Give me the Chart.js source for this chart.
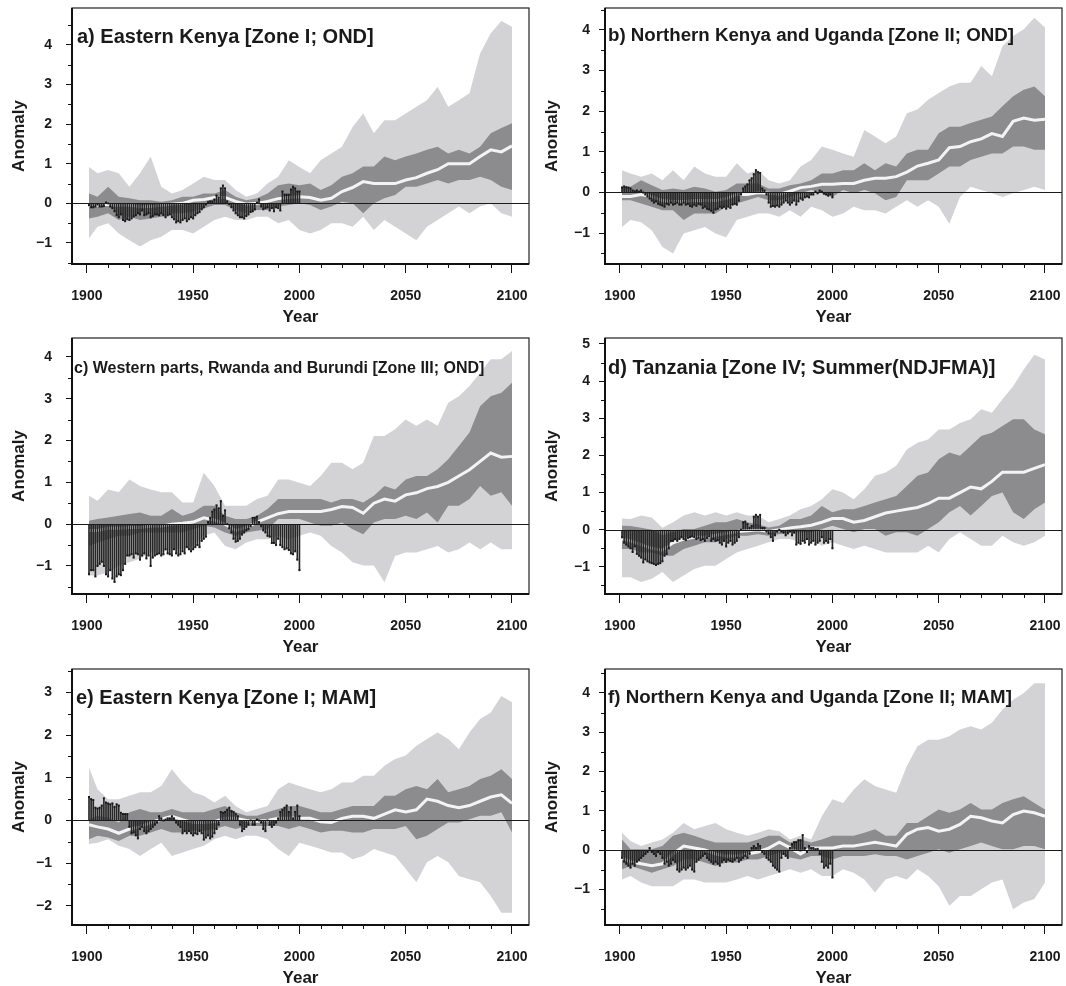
<!DOCTYPE html>
<html>
<head>
<meta charset="utf-8">
<script src="https://cdn.jsdelivr.net/npm/chart.js@4.4.1/dist/chart.umd.min.js"></script>
<style>
  body { margin: 0; background: #fff; width: 1066px; height: 986px; overflow: hidden; position: relative; }
  canvas { position: absolute; }
</style>
</head>
<body>
<canvas id="pa" width="533" height="330" style="left:0;top:0"></canvas>
<canvas id="pb" width="533" height="330" style="left:533px;top:0"></canvas>
<canvas id="pc" width="533" height="330" style="left:0;top:330px"></canvas>
<canvas id="pd" width="533" height="330" style="left:533px;top:330px"></canvas>
<canvas id="pe" width="533" height="330" style="left:0;top:661px"></canvas>
<canvas id="pf" width="533" height="330" style="left:533px;top:661px"></canvas>
<script>
// years for the model envelopes (every 5 years) and for the observed stems
const bandYears = [1901,1905,1910,1915,1920,1925,1930,1935,1940,1945,1950,1955,1960,1965,1970,1975,1980,1985,1990,1995,
  2000,2005,2010,2015,2020,2025,2030,2035,2040,2045,2050,2055,2060,2065,2070,2075,2080,2085,2090,2095,2100];
const obsYears = [1901,1902,1903,1904,1905,1906,1907,1908,1909,1910,1911,1912,1913,1914,1915,1916,1917,1918,1919,1920,
  1921,1922,1923,1924,1925,1926,1927,1928,1929,1930,1931,1932,1933,1934,1935,1936,1937,1938,1939,1940,
  1941,1942,1943,1944,1945,1946,1947,1948,1949,1950,1951,1952,1953,1954,1955,1956,1957,1958,1959,1960,
  1961,1962,1963,1964,1965,1966,1967,1968,1969,1970,1971,1972,1973,1974,1975,1976,1977,1978,1979,1980,
  1981,1982,1983,1984,1985,1986,1987,1988,1989,1990,1991,1992,1993,1994,1995,1996,1997,1998,1999,2000];
const xTicks = [1900, 1950, 2000, 2050, 2100];

// a) Eastern Kenya OND
const aLightHi = [0.92,0.76,0.84,0.76,0.42,0.76,1.18,0.42,0.25,0.34,0.5,0.67,0.59,0.59,0.34,0.17,0.25,0.5,0.67,1.09,0.92,0.76,1.09,1.26,1.43,1.93,2.27,1.77,2.1,2.1,2.27,2.44,2.6,2.94,2.44,2.6,2.78,3.78,4.29,4.6,4.46];
const aLightLo = [-0.88,-0.59,-0.5,-0.76,-0.93,-1.09,-0.93,-0.84,-0.67,-0.67,-0.76,-0.59,-0.42,-0.34,-0.42,-0.42,-0.34,-0.34,-0.5,-0.42,-0.67,-0.76,-0.67,-0.5,-0.5,-0.59,-0.34,-0.67,-0.42,-0.59,-0.76,-0.93,-0.59,-0.42,-0.25,-0.08,-0.25,-0.08,0.0,-0.25,-0.34];
const aDarkHi = [0.25,0.17,0.42,0.17,0.13,0.08,0.08,0.04,0.08,0.17,0.17,0.25,0.25,0.34,0.17,0.08,0.13,0.25,0.46,0.5,0.46,0.5,0.34,0.46,0.67,0.76,0.93,0.93,1.18,1.09,1.18,1.26,1.35,1.43,1.26,1.35,1.26,1.43,1.77,1.9,2.02];
const aDarkLo = [-0.38,-0.34,-0.25,-0.42,-0.34,-0.42,-0.38,-0.34,-0.25,-0.25,-0.21,-0.13,-0.04,-0.04,-0.17,-0.25,-0.17,-0.17,-0.08,-0.04,0.0,-0.04,-0.17,-0.08,0.04,0.0,-0.25,0.0,0.13,0.21,0.42,0.42,0.5,0.59,0.5,0.59,0.59,0.67,0.59,0.42,0.34];
const aMean = [-0.05,-0.05,-0.02,-0.05,-0.05,-0.08,-0.08,-0.05,-0.02,0.0,0.08,0.1,0.15,0.15,0.05,-0.02,0.0,0.05,0.12,0.15,0.17,0.15,0.08,0.13,0.3,0.4,0.55,0.5,0.5,0.5,0.59,0.65,0.76,0.85,1.0,1.0,1.0,1.18,1.35,1.3,1.45];
const aObs = [-0.05,-0.1,-0.1,-0.08,-0.03,-0.08,-0.08,-0.07,0.02,0.0, -0.08,-0.12,-0.2,-0.3,-0.35,-0.28,-0.42,-0.45,-0.4,-0.42,
  -0.38,-0.33,-0.3,-0.25,-0.28,-0.18,-0.3,-0.28,-0.25,-0.35, -0.32,-0.28,-0.28,-0.3,-0.25,-0.3,-0.35,-0.3,-0.28,-0.35,
  -0.4,-0.48,-0.45,-0.48,-0.42,-0.38,-0.45,-0.4,-0.35,-0.38, -0.3,-0.25,-0.22,-0.15,-0.1,-0.03,0.03,0.05,0.05,0.1,
  0.2,0.15,0.38,0.45,0.38,0.05,-0.02,-0.1,-0.18,-0.25, -0.3,-0.35,-0.35,-0.38,-0.32,-0.28,-0.22,-0.2,-0.15,0.02,
  0.1,-0.08,-0.15,-0.12,-0.1,-0.18,-0.12,-0.2,-0.1,-0.12, -0.18,0.3,0.22,0.22,0.22,0.35,0.42,0.38,0.3,0.3];

// b) Northern Kenya and Uganda OND
const bLightHi = [0.55,0.47,0.39,0.47,0.3,0.55,0.3,0.64,0.47,0.39,0.39,0.72,0.47,0.55,0.3,0.22,0.3,0.64,0.8,1.13,1.05,0.96,0.88,1.54,1.38,1.21,1.38,1.95,2.04,2.28,2.45,2.61,2.7,2.7,3.11,2.86,3.6,3.85,4.02,4.3,4.06];
const bLightLo = [-0.85,-0.68,-0.73,-0.93,-1.34,-1.5,-1.01,-0.93,-0.85,-1.01,-1.1,-0.68,-0.6,-0.52,-0.52,-0.6,-0.44,-0.6,-0.35,-0.44,-0.6,-0.52,-0.35,-0.44,-0.44,-0.52,-0.35,-0.19,-0.35,-0.19,-0.35,-0.77,-0.11,0.14,0.06,-0.02,-0.11,-0.02,0.06,0.14,0.06];
const bDarkHi = [0.14,0.14,0.3,0.18,0.06,0.1,0.06,0.14,0.1,0.02,0.06,0.22,0.22,0.22,0.1,0.1,0.18,0.22,0.3,0.47,0.47,0.55,0.55,0.72,0.55,0.72,0.64,0.96,1.05,1.05,1.46,1.62,1.62,1.71,1.79,1.87,2.12,2.37,2.53,2.61,2.37];
const bDarkLo = [-0.19,-0.19,-0.27,-0.35,-0.44,-0.44,-0.68,-0.52,-0.52,-0.52,-0.35,-0.27,-0.19,-0.11,-0.19,-0.19,-0.11,-0.02,0.06,-0.02,-0.11,0.06,-0.02,0.06,-0.02,-0.19,-0.11,0.3,0.3,0.3,0.47,0.64,0.64,0.8,0.88,0.96,0.96,1.13,1.13,1.05,1.05];
const bMean = [-0.1,-0.1,-0.05,-0.1,-0.2,-0.22,-0.22,-0.2,-0.2,-0.2,-0.15,-0.05,-0.05,0.0,-0.02,-0.05,0.03,0.12,0.15,0.2,0.2,0.22,0.22,0.3,0.35,0.35,0.39,0.5,0.65,0.72,0.8,1.1,1.13,1.25,1.32,1.45,1.38,1.75,1.83,1.78,1.8];
const bObs = [0.12,0.15,0.13,0.12,0.1,0.05,0.03,0.05,0.02,0.05, 0.0,-0.05,-0.1,-0.15,-0.2,-0.25,-0.22,-0.28,-0.3,-0.32,
  -0.35,-0.28,-0.3,-0.25,-0.3,-0.28,-0.25,-0.3,-0.3,-0.25, -0.3,-0.28,-0.33,-0.35,-0.3,-0.33,-0.28,-0.3,-0.38,-0.35,
  -0.4,-0.42,-0.45,-0.5,-0.42,-0.4,-0.35,-0.38,-0.35,-0.4, -0.35,-0.38,-0.3,-0.28,-0.3,-0.2,-0.05,0.1,0.15,0.2,
  0.3,0.35,0.45,0.55,0.5,0.48,0.1,0.05,-0.05,-0.25, -0.35,-0.33,-0.35,-0.32,-0.35,-0.3,-0.25,-0.2,-0.25,-0.3,
  -0.25,-0.2,-0.3,-0.22,-0.15,-0.18,-0.12,-0.1,-0.12,-0.05, -0.05,0.02,-0.02,0.05,0.02,-0.03,-0.05,-0.08,-0.05,-0.12];

// c) Western parts, Rwanda and Burundi OND
const cLightHi = [0.68,0.56,0.83,0.76,1.07,0.91,0.83,0.76,0.76,0.52,0.52,1.23,0.91,0.44,0.44,0.44,0.6,0.68,1.07,1.07,0.99,0.91,1.15,1.47,1.47,1.31,1.47,2.11,2.11,2.27,2.5,2.35,2.5,2.35,2.9,3.06,3.3,3.62,3.94,3.94,4.14];
const cLightLo = [-1.23,-1.23,-1.15,-0.99,-0.91,-0.83,-0.68,-0.68,-0.6,-0.6,-0.52,-0.28,-0.2,-0.52,-0.6,-0.44,-0.36,-0.36,-0.28,-0.36,-0.28,-0.2,-0.28,-0.52,-0.68,-0.91,-0.99,-0.99,-1.39,-0.76,-0.68,-0.68,-0.6,-0.52,-0.68,-0.6,-0.44,-0.6,-0.44,-0.6,-0.6];
const cDarkHi = [0.08,0.12,0.16,0.2,0.24,0.28,0.2,0.2,0.36,0.2,0.28,0.44,0.44,0.2,0.12,0.12,0.2,0.36,0.6,0.6,0.6,0.6,0.6,0.52,0.6,0.6,0.52,0.68,0.91,0.83,1.07,1.15,1.15,1.31,1.55,1.87,2.19,2.82,3.06,3.14,3.38];
const cDarkLo = [-0.52,-0.44,-0.36,-0.28,-0.28,-0.2,-0.2,-0.2,-0.2,-0.2,-0.12,-0.04,-0.08,-0.2,-0.28,-0.2,-0.16,-0.12,0.12,0.12,0.12,0.04,-0.04,-0.04,0.04,-0.12,-0.24,0.04,0.12,0.12,0.2,0.12,0.28,0.04,0.44,0.44,0.6,0.91,0.68,0.76,0.44];
const cMean = [-0.15,-0.15,-0.1,-0.1,-0.08,-0.08,-0.05,-0.05,0.0,0.02,0.05,0.15,0.1,0.0,-0.15,-0.08,0.05,0.15,0.25,0.3,0.3,0.3,0.3,0.35,0.42,0.4,0.26,0.5,0.6,0.55,0.7,0.75,0.85,0.9,1.0,1.15,1.3,1.5,1.7,1.6,1.62];
const cObs = [-1.2,-1.1,-1.1,-1.25,-1.0,-0.95,-0.9,-1.0,-1.2,-1.25, -1.1,-1.3,-1.38,-1.25,-1.2,-1.22,-1.1,-0.95,-0.75,-0.75,
  -0.72,-0.8,-0.7,-0.72,-0.85,-0.75,-0.7,-0.82,-0.75,-1.0, -0.8,-0.75,-0.72,-0.7,-0.75,-0.72,-0.6,-0.7,-0.72,-0.75,
  -0.6,-0.7,-0.75,-0.72,-0.65,-0.7,-0.55,-0.6,-0.65,-0.6, -0.55,-0.5,-0.55,-0.4,-0.35,-0.3,0.05,0.15,0.3,0.35,
  0.45,0.38,0.55,0.2,0.33,0.0,-0.1,-0.2,-0.35,-0.42, -0.4,-0.35,-0.25,-0.2,-0.15,-0.12,-0.05,0.15,0.15,0.18,
  0.05,-0.05,-0.15,-0.2,-0.28,-0.3,-0.45,-0.45,-0.5,-0.35, -0.5,-0.55,-0.6,-0.58,-0.62,-0.7,-0.72,-0.65,-0.85,-1.1];

// d) Tanzania NDJFMA
const dLightHi = [0.3,0.29,0.38,0.33,0.05,0.2,0.38,0.47,0.38,0.47,0.38,0.47,0.38,0.38,0.2,0.29,0.38,0.55,0.64,0.82,1.09,1.0,0.82,1.09,1.45,1.54,1.72,2.16,2.34,2.43,2.7,2.7,2.87,2.97,3.24,3.15,3.51,3.86,4.31,4.71,4.58];
const dLightLo = [-1.28,-1.28,-1.41,-1.32,-1.14,-1.41,-1.23,-1.06,-0.97,-0.97,-0.79,-0.61,-0.52,-0.43,-0.34,-0.25,-0.25,-0.34,-0.25,-0.43,-0.34,-0.43,-0.52,-0.43,-0.52,-0.61,-0.61,-0.61,-0.61,-0.43,-0.61,-0.25,-0.07,-0.25,-0.43,-0.43,-0.16,-0.34,-0.43,-0.34,-0.16];
const dDarkHi = [0.11,0.1,0.05,0.0,-0.15,-0.07,0.02,0.02,0.11,0.2,0.2,0.29,0.2,0.15,0.06,0.11,0.29,0.29,0.38,0.64,0.47,0.55,0.55,0.64,0.73,0.82,0.91,1.18,1.45,1.54,1.9,2.08,1.99,2.25,2.52,2.61,2.79,2.97,2.97,2.7,2.57];
const dDarkLo = [-0.52,-0.52,-0.61,-0.61,-0.7,-0.7,-0.52,-0.43,-0.34,-0.34,-0.25,-0.16,-0.16,-0.12,-0.16,-0.12,-0.07,-0.07,-0.07,0.02,0.11,0.02,-0.07,0.02,0.02,-0.16,-0.07,-0.07,-0.16,0.02,0.2,0.47,0.64,0.38,0.64,0.91,1.0,0.47,0.29,0.55,0.73];
const dMean = [-0.25,-0.3,-0.4,-0.5,-0.55,-0.35,-0.25,-0.2,-0.2,-0.15,-0.1,-0.05,-0.03,0.0,-0.05,0.0,0.05,0.08,0.12,0.2,0.3,0.3,0.2,0.25,0.35,0.45,0.5,0.55,0.6,0.7,0.85,0.85,1.0,1.15,1.1,1.3,1.55,1.55,1.55,1.65,1.75];
const dObs = [-0.2,-0.35,-0.4,-0.45,-0.5,-0.6,-0.45,-0.65,-0.7,-0.75, -0.88,-0.8,-0.85,-0.88,-0.9,-0.92,-0.95,-0.92,-0.9,-0.85,
  -0.7,-0.65,-0.5,-0.3,-0.3,-0.25,-0.3,-0.25,-0.2,-0.25, -0.28,-0.22,-0.2,-0.18,-0.2,-0.25,-0.22,-0.28,-0.25,-0.3,
  -0.22,-0.18,-0.3,-0.25,-0.3,-0.28,-0.35,-0.4,-0.3,-0.45, -0.35,-0.3,-0.4,-0.35,-0.3,-0.2,0.0,0.2,0.22,0.15,
  0.05,0.1,0.35,0.4,0.35,0.4,0.05,0.05,-0.05,-0.1, -0.2,-0.3,-0.15,-0.05,0.0,-0.05,-0.08,-0.15,-0.1,-0.05,
  -0.15,-0.08,-0.4,-0.35,-0.38,-0.3,-0.35,-0.25,-0.4,-0.35, -0.3,-0.4,-0.35,-0.3,-0.2,-0.35,-0.3,-0.35,-0.25,-0.5];

// e) Eastern Kenya MAM
const eLightHi = [1.24,0.73,0.5,0.5,0.58,0.66,0.66,0.81,1.2,0.89,0.66,0.58,0.42,0.58,0.34,0.19,0.27,0.34,0.73,0.89,0.81,0.73,0.66,0.73,0.89,0.89,1.05,1.05,1.28,1.44,1.52,1.75,1.91,2.06,1.91,1.67,2.06,2.38,2.53,2.92,2.77];
const eLightLo = [-0.55,-0.52,-0.44,-0.59,-0.67,-0.83,-0.67,-0.52,-0.83,-0.75,-0.67,-0.59,-0.44,-0.36,-0.44,-0.36,-0.36,-0.44,-0.67,-0.83,-0.52,-0.59,-0.67,-0.75,-0.75,-0.91,-0.83,-0.67,-0.75,-0.83,-1.14,-1.45,-0.98,-0.83,-0.98,-1.3,-1.38,-1.45,-1.77,-2.16,-2.16];
const eDarkHi = [0.03,0.11,0.07,-0.05,0.19,0.27,0.19,0.19,0.27,0.19,0.19,0.19,0.27,0.34,0.19,0.11,0.11,0.19,0.27,0.34,0.34,0.27,0.19,0.19,0.27,0.34,0.34,0.34,0.58,0.58,0.73,0.81,0.73,0.97,0.66,0.73,0.81,0.97,1.05,1.2,0.97];
const eDarkLo = [-0.44,-0.36,-0.4,-0.48,-0.36,-0.36,-0.28,-0.2,-0.28,-0.28,-0.24,-0.24,-0.2,-0.13,-0.2,-0.13,-0.13,-0.13,-0.13,-0.2,-0.13,-0.2,-0.28,-0.24,-0.24,-0.28,-0.28,-0.2,-0.2,-0.2,-0.13,-0.44,-0.36,-0.2,-0.05,-0.05,0.03,0.11,0.11,0.19,-0.28];
const eMean = [-0.1,-0.15,-0.2,-0.3,-0.2,-0.15,-0.05,0.03,0.1,0.02,-0.05,-0.05,-0.03,0.05,0.05,0.0,-0.02,0.0,0.05,0.05,0.05,0.05,-0.03,-0.05,0.05,0.1,0.1,0.05,0.15,0.25,0.2,0.25,0.5,0.45,0.35,0.3,0.35,0.45,0.55,0.6,0.4];
const eObs = [0.55,0.5,0.48,0.3,0.28,0.3,0.35,0.52,0.42,0.4, 0.38,0.4,0.32,0.38,0.35,0.18,0.15,0.15,0.15,-0.15,
  -0.3,-0.28,-0.35,-0.42,-0.2,-0.15,-0.25,-0.3,-0.25,-0.2, -0.15,-0.1,-0.05,0.1,0.05,0.0,0.02,0.05,0.05,0.1,
  0.05,-0.05,-0.1,-0.15,-0.3,-0.25,-0.3,-0.25,-0.3,-0.35, -0.3,-0.32,-0.25,-0.3,-0.45,-0.4,-0.35,-0.42,-0.38,-0.3,
  -0.2,-0.1,0.2,0.18,0.2,0.25,0.3,0.22,0.2,0.15, 0.1,-0.1,-0.25,-0.2,-0.15,-0.1,0.0,-0.1,-0.1,0.02,
  0.0,-0.05,-0.2,-0.25,0.0,-0.1,-0.15,-0.1,-0.05,0.05, 0.2,0.25,0.3,0.35,0.2,0.3,0.05,0.2,0.35,0.1];

// f) Northern Kenya and Uganda MAM
const fLightHi = [0.44,0.23,0.1,0.19,0.27,0.44,0.69,0.53,0.61,0.69,0.53,0.44,0.36,0.44,0.53,0.48,0.27,0.36,0.27,0.86,1.29,1.2,1.54,1.8,1.63,1.54,1.46,2.14,2.64,2.81,2.81,2.9,3.07,3.15,3.07,3.24,3.58,3.83,4.0,4.25,4.25];
const fLightLo = [-0.75,-0.66,-0.83,-0.92,-0.92,-0.92,-0.75,-0.75,-0.83,-0.83,-0.83,-0.75,-0.66,-0.75,-0.66,-0.58,-0.49,-0.58,-0.49,-0.66,-0.66,-0.49,-0.58,-0.75,-1.08,-0.75,-0.66,-0.75,-0.49,-0.66,-0.92,-1.42,-1.17,-1.17,-1.0,-0.83,-0.75,-1.51,-1.34,-1.25,-0.83];
const fDarkHi = [0.27,0.02,0.02,0.02,0.1,0.36,0.44,0.36,0.27,0.19,0.19,0.19,0.19,0.27,0.36,0.36,0.19,0.27,0.19,0.27,0.36,0.36,0.36,0.44,0.53,0.36,0.36,0.69,0.69,0.86,1.03,0.95,1.03,1.2,1.03,1.03,1.2,1.29,1.37,1.2,1.03];
const fDarkLo = [-0.49,-0.41,-0.49,-0.58,-0.49,-0.41,-0.24,-0.24,-0.32,-0.41,-0.32,-0.32,-0.24,-0.24,-0.15,-0.07,-0.19,-0.24,-0.15,-0.15,-0.24,-0.15,-0.15,-0.15,-0.11,-0.15,-0.15,-0.24,-0.15,-0.07,0.02,-0.07,0.02,0.1,0.19,0.1,0.02,0.02,0.1,0.1,0.02];
const fMean = [-0.2,-0.3,-0.35,-0.4,-0.35,-0.1,0.1,0.05,0.0,-0.1,-0.15,-0.15,-0.1,-0.05,0.05,0.2,0.06,-0.1,0.05,0.05,0.05,0.1,0.1,0.15,0.2,0.15,0.1,0.4,0.53,0.57,0.48,0.53,0.65,0.86,0.82,0.74,0.69,0.9,0.99,0.95,0.86];
const fObs = [-0.2,-0.3,-0.35,-0.4,-0.45,-0.35,-0.4,-0.3,-0.25,-0.2, -0.15,-0.1,-0.05,0.05,-0.05,-0.1,-0.15,-0.05,-0.1,-0.2,
  -0.35,-0.3,-0.4,-0.35,-0.25,-0.3,-0.5,-0.55,-0.5,-0.45, -0.5,-0.45,-0.4,-0.5,-0.55,-0.3,-0.25,-0.2,-0.15,-0.1,
  -0.2,-0.25,-0.3,-0.35,-0.3,-0.35,-0.4,-0.3,-0.25,-0.3, -0.25,-0.28,-0.3,-0.25,-0.2,-0.3,-0.25,-0.2,-0.15,-0.2,
  -0.1,0.05,0.1,0.05,0.15,0.1,-0.05,-0.1,-0.2,-0.25, -0.3,-0.4,-0.45,-0.5,-0.55,-0.2,-0.1,-0.15,-0.2,0.05,
  0.15,0.2,0.2,0.25,0.25,0.38,0.05,-0.05,0.1,0.05, 0.05,0.02,0.03,-0.1,-0.3,-0.45,-0.4,-0.45,-0.35,-0.7];

const FONT = '"Liberation Sans", Arial, Helvetica, sans-serif';
const LIGHT = '#d3d3d5';
const DARK = '#8c8c8e';

const panels = [
  { id: 'pa', title: 'a) Eastern Kenya [Zone I; OND]', size: 20, dx: 5, dy: 29, ymin: -1.53, ymax: 4.93, lpad: 14,
    lightHi: aLightHi, lightLo: aLightLo, darkHi: aDarkHi, darkLo: aDarkLo, mean: aMean, obs: aObs },
  { id: 'pb', title: 'b) Northern Kenya and Uganda [Zone II; OND]', size: 18.7, dx: 3, dy: 28, ymin: -1.76, ymax: 4.54, lpad: 9,
    lightHi: bLightHi, lightLo: bLightLo, darkHi: bDarkHi, darkLo: bDarkLo, mean: bMean, obs: bObs },
  { id: 'pc', title: 'c) Western parts, Rwanda and Burundi [Zone III; OND]', size: 16, dx: 2, dy: 31, ymin: -1.67, ymax: 4.45, lpad: 14,
    lightHi: cLightHi, lightLo: cLightLo, darkHi: cDarkHi, darkLo: cDarkLo, mean: cMean, obs: cObs },
  { id: 'pd', title: 'd) Tanzania [Zone IV; Summer(NDJFMA)]', size: 20, dx: 3, dy: 30, ymin: -1.73, ymax: 5.16, lpad: 9,
    lightHi: dLightHi, lightLo: dLightLo, darkHi: dDarkHi, darkLo: dDarkLo, mean: dMean, obs: dObs },
  { id: 'pe', title: 'e) Eastern Kenya [Zone I; MAM]', size: 20, dx: 4, dy: 29, ymin: -2.45, ymax: 3.55, lpad: 14,
    lightHi: eLightHi, lightLo: eLightLo, darkHi: eDarkHi, darkLo: eDarkLo, mean: eMean, obs: eObs },
  { id: 'pf', title: 'f) Northern Kenya and Uganda [Zone II; MAM]', size: 18.7, dx: 3, dy: 29, ymin: -1.91, ymax: 4.61, lpad: 9,
    lightHi: fLightHi, lightLo: fLightLo, darkHi: fDarkHi, darkLo: fDarkLo, mean: fMean, obs: fObs }
];

function pts(xs, ys) {
  return xs.map((x, i) => ({ x: x, y: ys[i] }));
}

// zero line, frame, minor ticks and the panel title
const decor = {
  id: 'decor',
  afterDatasetsDraw(chart) {
    const { ctx, chartArea: ca, scales: { y } } = chart;
    const y0 = Math.round(y.getPixelForValue(0)) + 0.5;
    ctx.save();
    ctx.strokeStyle = '#1a1a1a';
    ctx.lineWidth = 1.2;
    ctx.beginPath();
    ctx.moveTo(ca.left, y0);
    ctx.lineTo(ca.right, y0);
    ctx.stroke();
    ctx.restore();
  },
  afterDraw(chart, args, opts) {
    const { ctx, chartArea: ca, scales: { x, y } } = chart;
    ctx.save();
    // frame: thin top/right, heavier left/bottom
    ctx.strokeStyle = '#222';
    ctx.lineWidth = 1.2;
    ctx.strokeRect(ca.left, ca.top, ca.right - ca.left, ca.bottom - ca.top);
    ctx.strokeStyle = '#111';
    ctx.lineWidth = 2;
    ctx.beginPath();
    ctx.moveTo(ca.left, ca.top);
    ctx.lineTo(ca.left, ca.bottom);
    ctx.lineTo(ca.right, ca.bottom);
    ctx.stroke();
    // minor ticks
    ctx.lineWidth = 1;
    ctx.beginPath();
    for (let v = Math.ceil(y.min * 2) / 2; v <= y.max; v += 0.5) {
      if (Math.abs(v - Math.round(v)) < 1e-6) continue;
      const py = Math.round(y.getPixelForValue(v)) + 0.5;
      ctx.moveTo(ca.left - 4, py);
      ctx.lineTo(ca.left, py);
    }
    for (let yr = 1910; yr < 2100; yr += 10) {
      if (yr % 50 === 0) continue;
      const px = Math.round(x.getPixelForValue(yr)) + 0.5;
      ctx.moveTo(px, ca.bottom);
      ctx.lineTo(px, ca.bottom + 4);
    }
    ctx.stroke();
    // title
    ctx.fillStyle = '#1a1a1a';
    ctx.font = 'bold ' + opts.size + 'px ' + FONT;
    ctx.textBaseline = 'middle';
    ctx.textAlign = 'left';
    ctx.fillText(opts.text, ca.left + opts.dx, ca.top + opts.dy);
    ctx.restore();
  }
};

function intTicks(s) {
  const out = [];
  for (let v = Math.ceil(s.min); v <= Math.floor(s.max); v++) out.push({ value: v });
  s.ticks = out;
}

function makeChart(p) {
  const tickFont = { family: FONT, size: 14, weight: 'bold' };
  const titleFont = { family: FONT, size: 17, weight: 'bold' };
  return new Chart(document.getElementById(p.id), {
    type: 'line',
    data: {
      datasets: [
        { data: pts(bandYears, p.lightLo), borderColor: 'rgba(0,0,0,0)', borderWidth: 0, pointRadius: 0, fill: false, order: 10 },
        { data: pts(bandYears, p.lightHi), borderColor: 'rgba(0,0,0,0)', borderWidth: 0, pointRadius: 0, fill: '-1', backgroundColor: LIGHT, order: 10 },
        { data: pts(bandYears, p.darkLo), borderColor: 'rgba(0,0,0,0)', borderWidth: 0, pointRadius: 0, fill: false, order: 8 },
        { data: pts(bandYears, p.darkHi), borderColor: 'rgba(0,0,0,0)', borderWidth: 0, pointRadius: 0, fill: '-1', backgroundColor: DARK, order: 8 },
        { data: pts(bandYears, p.mean), borderColor: '#f3f3f3', borderWidth: 3, pointRadius: 0, fill: false, order: 6 },
        { type: 'bar', data: pts(obsYears, p.obs), backgroundColor: '#262626', barThickness: 1, order: 4 },
        { data: pts(obsYears, p.obs), showLine: false, pointStyle: 'rect', pointRadius: 1.4,
          pointBackgroundColor: '#1a1a1a', pointBorderWidth: 0, fill: false, order: 3 }
      ]
    },
    options: {
      responsive: false,
      animation: false,
      devicePixelRatio: 1,
      layout: { padding: { left: 0, right: 2, top: 8, bottom: 0 } },
      plugins: {
        legend: { display: false },
        tooltip: { enabled: false },
        decor: { text: p.title, size: p.size, dx: p.dx, dy: p.dy }
      },
      scales: {
        x: {
          type: 'linear', min: 1893, max: 2108, offset: false,
          afterBuildTicks: s => { s.ticks = xTicks.map(v => ({ value: v })); },
          afterFit: s => { s.height = 66; s.paddingLeft = 0; s.paddingRight = 0; },
          ticks: { autoSkip: false, maxRotation: 0, includeBounds: false, font: tickFont, color: '#1a1a1a', padding: 15,
                   callback: v => String(v) },
          grid: { display: true, offset: false, drawOnChartArea: false, drawTicks: true, tickLength: 9, color: '#111', lineWidth: 1 },
          border: { display: false },
          title: { display: true, text: 'Year', font: titleFont, color: '#1a1a1a', padding: { top: 0, bottom: 2 } }
        },
        y: {
          type: 'linear', min: p.ymin, max: p.ymax,
          afterBuildTicks: intTicks,
          afterFit: s => { s.width = 72; s.paddingTop = 0; s.paddingBottom = 0; },
          ticks: { includeBounds: false, font: tickFont, color: '#1a1a1a', padding: p.lpad,
                   callback: v => (v < 0 ? '\u2212' + Math.abs(v) : String(v)) },
          grid: { display: true, drawOnChartArea: false, drawTicks: true, tickLength: 6, color: '#111', lineWidth: 1 },
          border: { display: false },
          title: { display: true, text: 'Anomaly', font: titleFont, color: '#1a1a1a', padding: { top: 9, bottom: 0 } }
        }
      }
    },
    plugins: [decor]
  });
}

panels.forEach(makeChart);
</script>
</body>
</html>
